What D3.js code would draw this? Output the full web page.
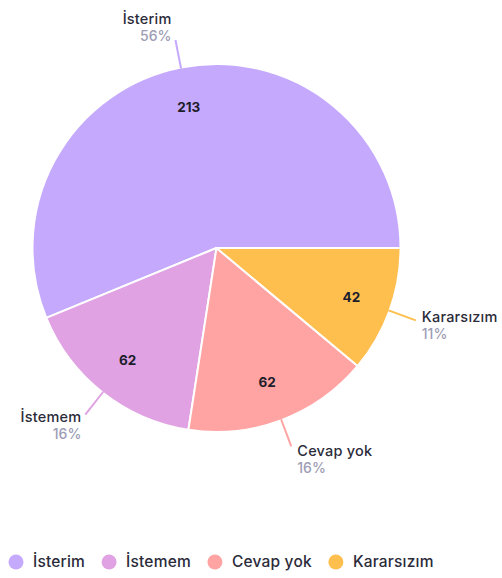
<!DOCTYPE html>
<html>
<head>
<meta charset="utf-8">
<script src="https://cdn.jsdelivr.net/npm/d3@7"></script>
<style>
  body { margin: 0; background: #fff; }
  text { font-family: Inter, "Noto Sans", sans-serif; }
</style>
</head>
<body>
<div id="chart"></div>
<script>
// Data
var categories = ["İsterim", "İstemem", "Cevap yok", "Kararsızım"];
var values = [213, 62, 62, 42];
var percentLabels = ["56%", "16%", "16%", "11%"];
var colors = ["#c5a9fd", "#e0a2e3", "#ffa3a3", "#ffbf4f"];

// SVG area
var svgWidth = 502;
var svgHeight = 578;

var svg = d3.select("#chart")
  .append("svg")
  .attr("width", svgWidth)
  .attr("height", svgHeight);

// Pie geometry
var cx = 216.5;
var cy = 248;
var radius = 184;

var pieGroup = svg.append("g")
  .attr("transform", `translate(${cx}, ${cy})`);

var data = categories.map(function(c, i) {
  return { name: c, value: values[i], pct: percentLabels[i], color: colors[i] };
});

// starts at 3 o'clock and runs counterclockwise
var pie = d3.pie()
  .sort(null)
  .value(d => d.value)
  .startAngle(Math.PI / 2)
  .endAngle(Math.PI / 2 - 2 * Math.PI);

var arcs = pie(data);

var arc = d3.arc().innerRadius(0).outerRadius(radius);

pieGroup.selectAll("path.slice")
  .data(arcs)
  .enter()
  .append("path")
  .attr("class", "slice")
  .attr("d", arc)
  .attr("fill", d => d.data.color)
  .attr("stroke", "#fff")
  .attr("stroke-width", 2)
  .attr("stroke-linejoin", "round");

function midAngle(d) {
  return (d.startAngle + d.endAngle) / 2;
}
function pointAt(a, r) {
  return [Math.sin(a) * r, -Math.cos(a) * r];
}

// Value labels inside slices
pieGroup.selectAll("text.value")
  .data(arcs)
  .enter()
  .append("text")
  .attr("class", "value")
  .attr("x", d => pointAt(midAngle(d), radius * 0.78)[0])
  .attr("y", d => pointAt(midAngle(d), radius * 0.78)[1])
  .attr("dy", "0.35em")
  .attr("text-anchor", "middle")
  .attr("font-size", "13.5px")
  .attr("font-weight", 700)
  .attr("fill", "#1d1d2b")
  .text(d => d.data.value);

// Leader lines
var lineOuter = radius + 28;
pieGroup.selectAll("line.leader")
  .data(arcs)
  .enter()
  .append("line")
  .attr("class", "leader")
  .attr("x1", d => pointAt(midAngle(d), radius - 1)[0])
  .attr("y1", d => pointAt(midAngle(d), radius - 1)[1])
  .attr("x2", d => pointAt(midAngle(d), lineOuter)[0])
  .attr("y2", d => pointAt(midAngle(d), lineOuter)[1])
  .attr("stroke", d => d.data.color)
  .attr("stroke-width", 2);

// Outer labels: category + percent
var outer = pieGroup.selectAll("g.outer")
  .data(arcs)
  .enter()
  .append("g")
  .attr("class", "outer")
  .attr("transform", function(d) {
    var a = midAngle(d);
    var p = pointAt(a, lineOuter);
    var right = Math.sin(a) > 0;
    var x = p[0] + (right ? 6 : -4);
    var y = p[1] - Math.cos(a) * 13;
    return `translate(${x}, ${y})`;
  })
  .attr("text-anchor", d => Math.sin(midAngle(d)) > 0 ? "start" : "end");

outer.append("text")
  .attr("y", -3)
  .attr("font-size", "14.5px")
  .attr("font-weight", 500)
  .attr("letter-spacing", "0.2px")
  .attr("fill", "#2b2b3a")
  .text(d => d.data.name);

outer.append("text")
  .attr("y", 14)
  .attr("font-size", "14px")
  .attr("font-weight", 500)
  .attr("fill", "#9d9db5")
  .text(d => d.data.pct);

// Legend
var legend = svg.append("g")
  .attr("transform", "translate(0, 562)");

var lx = 16;
data.forEach(function(d) {
  var item = legend.append("g").attr("transform", `translate(${lx}, 0)`);
  item.append("circle")
    .attr("r", 7.5)
    .attr("fill", d.color);
  var t = item.append("text")
    .attr("x", 17)
    .attr("dy", "0.35em")
    .attr("font-size", "15.5px")
    .attr("font-weight", 500)
    .attr("letter-spacing", "0.2px")
    .attr("fill", "#2b2b3a")
    .text(d.name);
  lx += 17 + t.node().getComputedTextLength() + 24;
});
</script>
</body>
</html>
